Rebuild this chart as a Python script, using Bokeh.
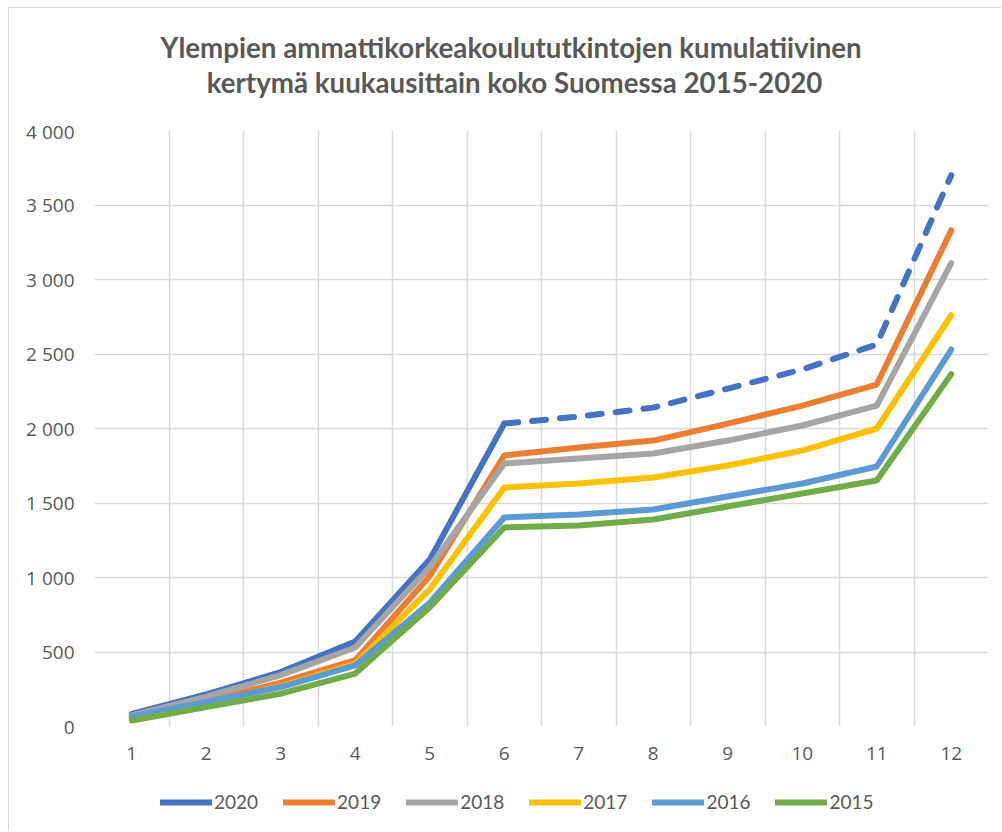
from bokeh.plotting import figure
from bokeh.models import Legend, LegendItem, FixedTicker, Range1d, Label
from bokeh.layouts import column
from bokeh.embed import file_html
from bokeh.resources import INLINE

months = [1, 2, 3, 4, 5, 6, 7, 8, 9, 10, 11, 12]
x_tick_labels = ["1", "2", "3", "4", "5", "6", "7", "8", "9", "10", "11", "12"]
y_ticks = [0, 500, 1000, 1500, 2000, 2500, 3000, 3500, 4000]
y_tick_labels = ["0", "500", "1 000", "1 500", "2 000", "2 500", "3 000", "3 500", "4 000"]

years = ["2020", "2019", "2018", "2017", "2016", "2015"]
v2020 = [85, 215, 365, 570, 1120, 2033, 2080, 2140, 2268, 2396, 2564, 3700]
v2019 = [60, 170, 295, 445, 1010, 1819, 1873, 1919, 2033, 2154, 2295, 3330]
v2018 = [75, 200, 345, 530, 1070, 1765, 1799, 1832, 1919, 2020, 2154, 3110]
v2017 = [50, 150, 270, 420, 920, 1604, 1631, 1671, 1752, 1852, 2000, 2760]
v2016 = [65, 165, 265, 410, 830, 1403, 1423, 1456, 1544, 1631, 1745, 2530]
v2015 = [40, 130, 220, 355, 800, 1336, 1349, 1389, 1477, 1564, 1651, 2365]
colors = ["#4472C4", "#ED7D31", "#A5A5A5", "#FFC000", "#5B9BD5", "#70AD47"]

title_lines = ["Ylempien ammattikorkeakoulututkintojen  kumulatiivinen",
               "kertymä kuukausittain koko Suomessa 2015-2020"]

TXT = "#595959"
GRID = "#D9D9D9"
W = 992
LW = 6


def bare(h):
    f = figure(width=W, height=h, output_backend="svg", toolbar_location=None,
               x_range=Range1d(0, 1), y_range=Range1d(0, 1),
               x_axis_type=None, y_axis_type=None, min_border=0)
    f.title = None
    f.grid.visible = False
    f.outline_line_color = None
    f.background_fill_color = "white"
    f.border_fill_color = "white"
    return f


# ---- title strip (frame aligned with the chart frame by the column)
tfig = bare(110)
for txt, yy in zip(title_lines, [71, 36]):
    tfig.add_layout(Label(x=420, y=yy, x_units="screen", y_units="screen", text=txt,
                          text_align="center", text_baseline="middle",
                          text_font="Lato", text_font_style="bold",
                          text_font_size="27.7px", text_color=TXT))

# ---- main chart
p = figure(width=W, height=657, output_backend="svg", toolbar_location=None,
           x_range=Range1d(0.5, 12.5), y_range=Range1d(0, 4000),
           min_border_left=85, min_border_right=13, min_border_top=12, min_border_bottom=49)
p.title = None
p.outline_line_color = None
p.background_fill_color = "white"
p.border_fill_color = "white"

p.xaxis.ticker = FixedTicker(ticks=months)
p.xaxis.major_label_overrides = {m: l for m, l in zip(months, x_tick_labels)}
p.yaxis.ticker = FixedTicker(ticks=y_ticks)
p.yaxis.major_label_overrides = {t: l for t, l in zip(y_ticks, y_tick_labels)}
p.xgrid.ticker = FixedTicker(ticks=[m - 0.5 for m in months] + [12.5])
p.ygrid.ticker = FixedTicker(ticks=y_ticks)
for g in (p.xgrid, p.ygrid):
    g.grid_line_color = GRID
    g.grid_line_width = 1.5
for ax in (p.xaxis, p.yaxis):
    ax.axis_line_color = None
    ax.major_tick_line_color = None
    ax.minor_tick_line_color = None
    ax.major_label_text_font = "Open Sans"
    ax.major_label_text_font_size = "19px"
    ax.major_label_text_color = TXT
p.xaxis.major_label_standoff = 14
p.yaxis.major_label_standoff = 14

series = [v2020, v2019, v2018, v2017, v2016, v2015]
for name, vals, col in zip(years, series, colors):
    if name == "2020":
        p.line(months[:6], vals[:6], line_color=col, line_width=LW,
               line_join="round", line_cap="round")
        p.line(months[5:], vals[5:], line_color=col, line_width=LW,
               line_join="round", line_cap="round", line_dash="14 14")
    else:
        p.line(months, vals, line_color=col, line_width=LW,
               line_join="round", line_cap="round")

# ---- legend strip (sample renderers sit outside the visible range)
lfig = bare(56)
items = []
for name, col in zip(years, colors):
    r = lfig.line([-5, -4], [-5, -5], line_color=col, line_width=LW, line_cap="round")
    items.append(LegendItem(label=name, renderers=[r]))
legend = Legend(items=items, orientation="horizontal", location=(66, 18),
                glyph_width=52, glyph_height=20, label_standoff=2, spacing=25,
                padding=0, margin=0, border_line_color=None, background_fill_alpha=0,
                label_text_font="Lato", label_text_font_size="19px", label_text_color=TXT)
lfig.add_layout(legend, "center")

layout = column(tfig, p, lfig, spacing=0,
                styles={"margin-left": "8px", "margin-top": "7px",
                        "border-left": "1px solid #D9D9D9", "border-top": "1px solid #D9D9D9"})

open("out.html", "w").write(file_html(layout, INLINE))
